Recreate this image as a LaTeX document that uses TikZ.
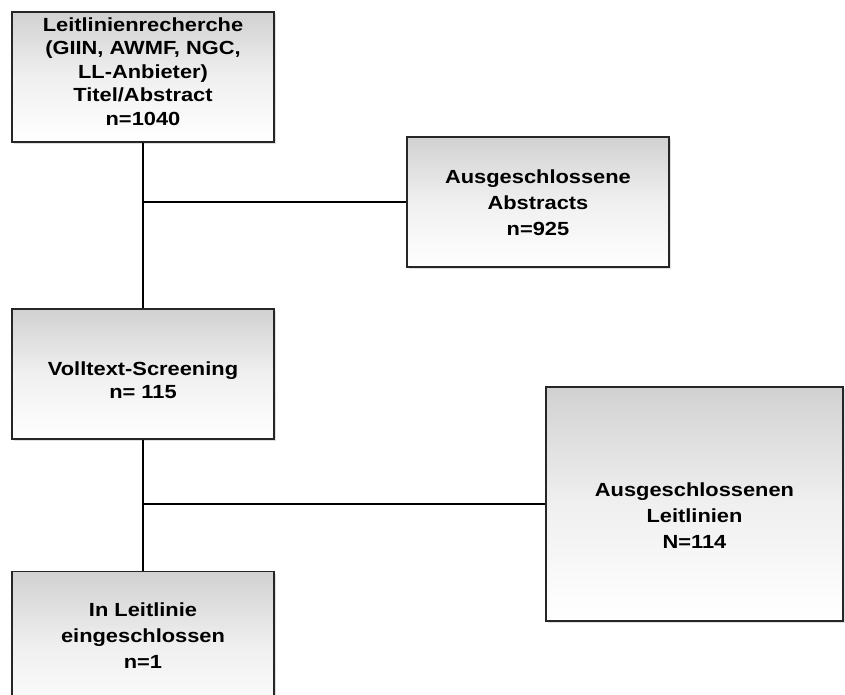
\documentclass[tikz,border=0pt]{standalone}
\usepackage{fontspec}
\setmainfont{Liberation Sans}[FakeStretch=1.15]
\usetikzlibrary{shadows}
\begin{document}
\begin{tikzpicture}[x=1pt,y=-1pt,
  flowbox/.style={draw=black!85, line width=1.2pt, top color=black!18, bottom color=white,
    middle color=black!6,
    drop shadow={opacity=0.25, shadow xshift=2pt, shadow yshift=-2pt},
    inner sep=0pt},
  boxtext/.style={align=center, inner sep=0pt, font=\bfseries\fontsize{19}{26}\selectfont},
  tighttext/.style={boxtext, font=\bfseries\fontsize{19}{23.4}\selectfont},
  conn/.style={line width=1.6pt, black}]
\useasboundingbox (0,0) rectangle (845,695);
\begin{scope}
\clip (0,0) rectangle (845,695);
\node[flowbox, minimum width=262pt, minimum height=130pt] (lit) at (143,77) {};
\node[tighttext] (littext) at (143,71.5)
  {Leitlinienrecherche\\(GIIN, AWMF, NGC,\\LL-Anbieter)\\Titel/Abstract\\n=1040};
\node[flowbox, minimum width=262pt, minimum height=130pt] (abs) at (538,202) {};
\node[boxtext] (abstext) at (538,203) {Ausgeschlossene\\Abstracts\\n=925};
\node[flowbox, minimum width=262pt, minimum height=130pt] (voll) at (143,374) {};
\node[tighttext] (volltext) at (143,380) {Volltext-Screening\\n= 115};
\node[flowbox, minimum width=297pt, minimum height=234pt] (ll) at (694.5,504) {};
\node[boxtext] (lltext) at (694.5,516) {Ausgeschlossenen\\Leitlinien\\N=114};
\node[flowbox, minimum width=262pt, minimum height=150pt, anchor=north] (inc) at (143,571) {};
\node[boxtext] (inctext) at (143,636) {In Leitlinie\\eingeschlossen\\n=1};
\end{scope}
\coordinate (j1) at (lit.south |- abs.west);
\coordinate (j2) at (voll.south |- ll.west);
\draw[conn] (lit.south) -- (voll.north);
\draw[conn] (j1) -- (abs.west);
\draw[conn] (voll.south) -- (inc.north);
\draw[conn] (j2) -- (ll.west);
\end{tikzpicture}
\end{document}
